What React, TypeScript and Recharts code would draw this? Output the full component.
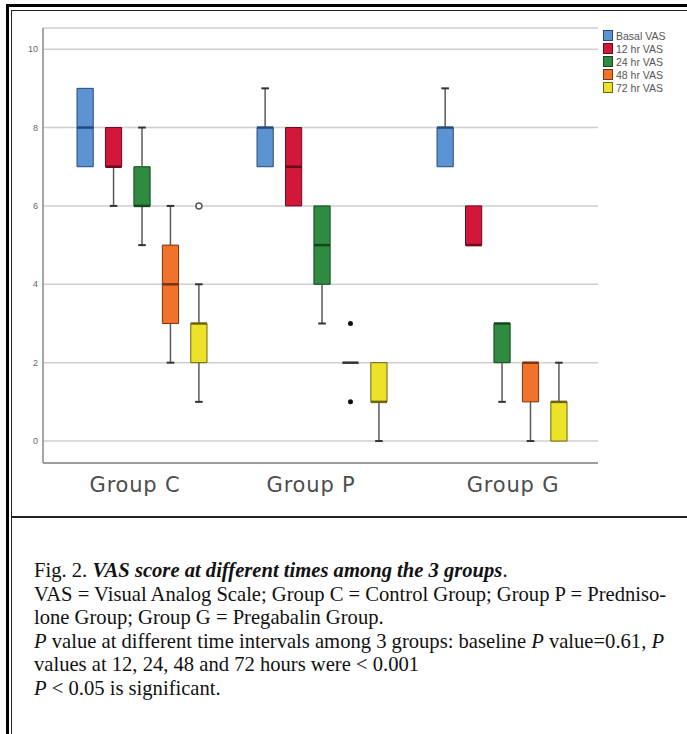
import React from 'react';
import { ComposedChart, Scatter, XAxis, YAxis, CartesianGrid, ReferenceArea, ReferenceLine } from 'recharts';

const groups = ['Group C', 'Group P', 'Group G'];
const timePoints = ['Basal VAS', '12 hr VAS', '24 hr VAS', '48 hr VAS', '72 hr VAS'];
const fills = ['#5b93d3', '#d3173b', '#2f8b3f', '#f1732b', '#ece227'];
const edges = ['#24497a', '#6a0a1c', '#14461f', '#7a3510', '#6b6410'];

// [min, q1, median, q3, max] for Group C, Group P, Group G
const basalVas = [[7, 7, 8, 9, 9], [7, 7, 8, 8, 9], [7, 7, 8, 8, 9]];
const vas12 = [[6, 7, 7, 8, 8], [6, 6, 7, 8, 8], [5, 5, 5, 6, 6]];
const vas24 = [[5, 6, 6, 7, 8], [3, 4, 5, 6, 6], [1, 2, 3, 3, 3]];
const vas48 = [[2, 3, 4, 5, 6], [2, 2, 2, 2, 2], [0, 1, 2, 2, 2]];
const vas72 = [[1, 2, 3, 3, 4], [0, 1, 1, 2, 2], [0, 0, 1, 1, 2]];
const allStats = [basalVas, vas12, vas24, vas48, vas72];

// outliers: group index, time index, value
const openOutliers = [{ group: 0, time: 4, value: 6 }];
const filledOutliers = [{ group: 1, time: 3, value: 3 }, { group: 1, time: 3, value: 1 }];

const yTicks = [0, 2, 4, 6, 8, 10];

const step = 0.158;
const halfBox = 0.045;
const halfCap = 0.021;
const slot = (g: number, t: number) => g + (t - 2) * step;

const whisker = '#5a5a5a';

function GroupTick(props: any) {
  const { x, y, payload, index } = props;
  const shift = [-7, -11, 11][index] || 0;
  return (
    <text x={x + shift} y={y + 29} textAnchor="middle" fill="#4d4d4d" fontSize={21}
      fontFamily="'DejaVu Sans', sans-serif" letterSpacing={0.8}>
      {groups[payload.value]}
    </text>
  );
}

export default function App() {
  const marks: any[] = [];
  allStats.forEach((series, t) => {
    series.forEach(([mn, q1, md, q3, mx], g) => {
      const cx = slot(g, t);
      const k = `${t}-${g}`;
      if (mx > q3) {
        marks.push(<ReferenceLine key={`wu${k}`} segment={[{ x: cx, y: q3 }, { x: cx, y: mx }]} stroke={whisker} strokeWidth={1.5} />);
        marks.push(<ReferenceLine key={`cu${k}`} segment={[{ x: cx - halfCap, y: mx }, { x: cx + halfCap, y: mx }]} stroke="#333" strokeWidth={2} />);
      }
      if (mn < q1) {
        marks.push(<ReferenceLine key={`wl${k}`} segment={[{ x: cx, y: q1 }, { x: cx, y: mn }]} stroke={whisker} strokeWidth={1.5} />);
        marks.push(<ReferenceLine key={`cl${k}`} segment={[{ x: cx - halfCap, y: mn }, { x: cx + halfCap, y: mn }]} stroke="#333" strokeWidth={2} />);
      }
      if (q3 > q1) {
        marks.push(<ReferenceArea key={`b${k}`} x1={cx - halfBox} x2={cx + halfBox} y1={q1} y2={q3}
          fill={fills[t]} fillOpacity={1} stroke={edges[t]} strokeWidth={1} />);
      }
      marks.push(<ReferenceLine key={`m${k}`} segment={[{ x: cx - halfBox, y: md }, { x: cx + halfBox, y: md }]}
        stroke={q3 > q1 ? edges[t] : '#333'} strokeWidth={2.5} />);
    });
  });

  const openPts = openOutliers.map((o) => ({ x: slot(o.group, o.time), y: o.value }));
  const filledPts = filledOutliers.map((o) => ({ x: slot(o.group, o.time), y: o.value }));

  return (
    <div style={{ position: 'absolute', left: 0, top: 0, width: 687, height: 734, background: '#fff', overflow: 'hidden' }}>
      <div style={{ position: 'absolute', left: 6, top: 4, width: 720, height: 760, borderLeft: '3px solid #000', borderTop: '3px solid #000' }} />
      <div style={{ position: 'absolute', left: 11, top: 10, width: 720, height: 760, borderLeft: '1.5px solid #222', borderTop: '1.5px solid #222' }} />
      <div style={{ position: 'absolute', left: 11, top: 516, width: 720, borderTop: '2px solid #222' }} />

      <div style={{ position: 'absolute', left: 0, top: 0 }}>
        <ComposedChart width={687} height={517} margin={{ top: 28, right: 89, bottom: 24, left: 10 }}>
          <CartesianGrid vertical={false} stroke="#cfcfcf" strokeWidth={1.5} />
          <XAxis type="number" dataKey="x" domain={[-0.55, 2.533]} ticks={[0, 1, 2]} allowDataOverflow
            height={30} tickLine={false} tickSize={0} tickMargin={0} axisLine={{ stroke: '#8a8a8a', strokeWidth: 1.5 }}
            tick={<GroupTick />} />
          <YAxis type="number" dataKey="y" domain={[-0.56, 10.54]} ticks={yTicks} allowDataOverflow
            width={33} tickLine={false} tickSize={3} axisLine={{ stroke: '#8a8a8a', strokeWidth: 1.5 }}
            tick={{ fill: '#666', fontSize: 9, fontFamily: "'Liberation Sans', sans-serif" }} />
          {marks}
          <Scatter data={openPts} isAnimationActive={false}
            shape={(p: any) => <circle cx={p.cx} cy={p.cy} r={3} fill="#fff" stroke="#555" strokeWidth={1.5} />} />
          <Scatter data={filledPts} isAnimationActive={false}
            shape={(p: any) => <circle cx={p.cx} cy={p.cy} r={2.5} fill="#111" />} />
        </ComposedChart>
      </div>

      <div style={{ position: 'absolute', left: 603, top: 29, fontFamily: "'Liberation Sans', sans-serif", fontSize: 10.5, color: '#555', background: '#fff' }}>
        {timePoints.map((name, i) => (
          <div key={name} style={{ display: 'flex', alignItems: 'center', height: 13, whiteSpace: 'nowrap' }}>
            <span style={{ display: 'inline-block', width: 8, height: 9, background: fills[i], border: `1px solid ${edges[i]}`, marginRight: 3 }} />
            {name}
          </div>
        ))}
      </div>

      <div style={{ position: 'absolute', left: 34, top: 559, fontFamily: "'Liberation Serif', serif", fontSize: 20.6, lineHeight: '23.5px', color: '#111', whiteSpace: 'nowrap' }}>
        <div>Fig. 2. <b><i>VAS score at different times among the 3 groups</i></b>.</div>
        <div>VAS = Visual Analog Scale; Group C = Control Group; Group P = Predniso-</div>
        <div>lone Group; Group G = Pregabalin Group.</div>
        <div><i>P</i> value at different time intervals among 3 groups: baseline <i>P</i> value=0.61, <i>P</i></div>
        <div>values at 12, 24, 48 and 72 hours were &lt; 0.001</div>
        <div><i>P</i> &lt; 0.05 is significant.</div>
      </div>
    </div>
  );
}
